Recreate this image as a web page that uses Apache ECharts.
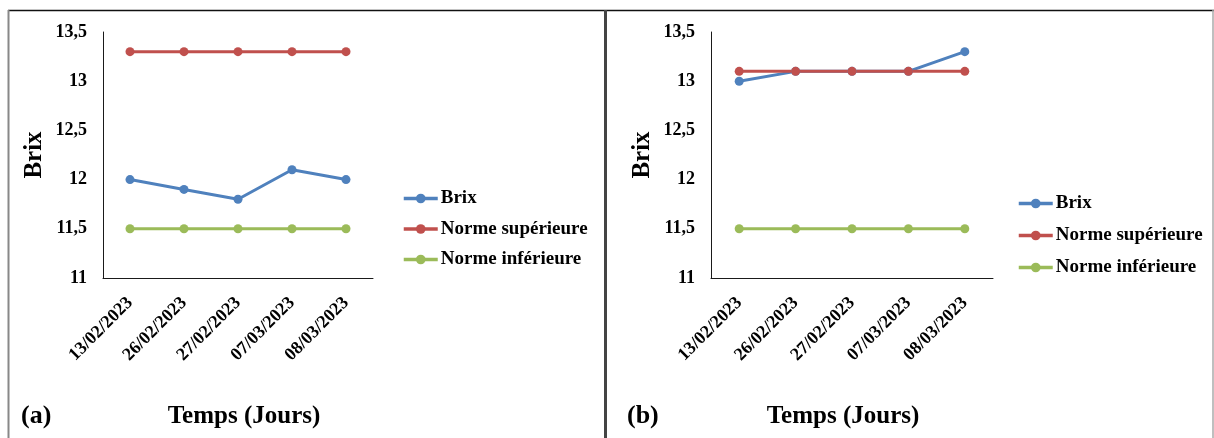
<!DOCTYPE html>
<html>
<head>
<meta charset="utf-8">
<script src="https://cdn.jsdelivr.net/npm/echarts@6/dist/echarts.min.js"></script>
<style>
  html, body { margin: 0; padding: 0; background: #fff; }
  #chart { width: 1214px; height: 438px; }
</style>
</head>
<body>
<div id="chart"></div>
<script>
// Sampling dates (shared by both panels)
const dates = ['13/02/2023', '26/02/2023', '27/02/2023', '07/03/2023', '08/03/2023'];

// Panel (a)
const brixA = [12.0, 11.9, 11.8, 12.1, 12.0];
const normeSupA = [13.3, 13.3, 13.3, 13.3, 13.3];
const normeInfA = [11.5, 11.5, 11.5, 11.5, 11.5];

// Panel (b)
const brixB = [13.0, 13.1, 13.1, 13.1, 13.3];
const normeSupB = [13.1, 13.1, 13.1, 13.1, 13.1];
const normeInfB = [11.5, 11.5, 11.5, 11.5, 11.5];

const seriesNames = ['Brix', 'Norme supérieure', 'Norme inférieure'];
const colors = ['#4F81BD', '#C0504D', '#9BBB59'];

const FONT = '"Liberation Serif", "Times New Roman", serif';

function makeXAxis(gridIndex, namePadding) {
  return {
    type: 'category',
    gridIndex: gridIndex,
    data: dates,
    boundaryGap: true,
    name: 'Temps (Jours)',
    nameLocation: 'middle',
    nameGap: 126,
    nameTextStyle: { fontFamily: FONT, fontWeight: 'bold', fontSize: 25, color: '#000', padding: namePadding },
    axisLine: { show: true, lineStyle: { color: '#1a1a1a', width: 1 } },
    axisTick: { show: false },
    splitLine: { show: false },
    axisLabel: {
      interval: 0, rotate: 45, margin: 22,
      fontFamily: FONT, fontWeight: 'bold', fontSize: 18, color: '#000'
    }
  };
}

function makeYAxis(gridIndex) {
  return {
    type: 'value',
    gridIndex: gridIndex,
    min: 11, max: 13.5, interval: 0.5,
    name: 'Brix',
    nameLocation: 'middle',
    nameRotate: 90,
    nameGap: 56,
    nameTextStyle: { fontFamily: FONT, fontWeight: 'bold', fontSize: 25, color: '#000' },
    axisLine: { show: true, lineStyle: { color: '#1a1a1a', width: 1 } },
    axisTick: { show: false },
    splitLine: { show: false },
    axisLabel: {
      margin: 16,
      fontFamily: FONT, fontWeight: 'bold', fontSize: 18, color: '#000',
      formatter: v => String(v).replace('.', ',')
    }
  };
}

function makeSeries(idx, values, name, color) {
  return {
    type: 'line',
    name: name,
    xAxisIndex: idx, yAxisIndex: idx,
    data: values,
    symbol: 'circle',
    symbolSize: 9,
    lineStyle: { width: 3, color: color },
    itemStyle: { color: color },
    animation: false
  };
}

function makeLegend(left, top, gap) {
  return {
    data: seriesNames,
    orient: 'vertical',
    left: left, top: top,
    padding: 0,
    itemWidth: 34, itemHeight: 12,
    itemGap: gap,
    selectedMode: false,
    lineStyle: { width: 3.5 },
    itemStyle: { borderWidth: 0 },
    textStyle: { fontFamily: FONT, fontWeight: 'bold', fontSize: 19, color: '#000', padding: [0, 0, 0, -2] }
  };
}

const chart = echarts.init(document.getElementById('chart'), null, { renderer: 'canvas' });

chart.setOption({
  backgroundColor: '#fff',
  color: colors,
  grid: [
    { left: 103, top: 32, width: 270, height: 246, outerBoundsMode: 'none', containLabel: false },
    { left: 711, top: 32, width: 282, height: 246, outerBoundsMode: 'none', containLabel: false }
  ],
  xAxis: [makeXAxis(0, [0, 0, 0, 12]), makeXAxis(1, [0, 18, 0, 0])],
  yAxis: [makeYAxis(0), makeYAxis(1)],
  legend: [
    makeLegend(402, 189, 11.5),
    makeLegend(1017, 194, 13)
  ],
  series: [
    makeSeries(0, brixA, seriesNames[0], colors[0]),
    makeSeries(0, normeSupA, seriesNames[1], colors[1]),
    makeSeries(0, normeInfA, seriesNames[2], colors[2]),
    makeSeries(1, brixB, seriesNames[0], colors[0]),
    makeSeries(1, normeSupB, seriesNames[1], colors[1]),
    makeSeries(1, normeInfB, seriesNames[2], colors[2])
  ],
  graphic: [
    // outer frame and panel divider
    { type: 'line', shape: { x1: 8, y1: 10.5, x2: 1214, y2: 10.5 }, style: { stroke: '#111', lineWidth: 1.5 } },
    { type: 'line', shape: { x1: 8.5, y1: 10, x2: 8.5, y2: 438 }, style: { stroke: '#888', lineWidth: 2 } },
    { type: 'line', shape: { x1: 605.5, y1: 10, x2: 605.5, y2: 438 }, style: { stroke: '#444', lineWidth: 3 } },
    { type: 'line', shape: { x1: 1213, y1: 10, x2: 1213, y2: 438 }, style: { stroke: '#aaa', lineWidth: 1.5 } },
    // panel letters
    { type: 'text', left: 21, top: 403, style: { text: '(a)', font: 'bold 26px ' + FONT, fill: '#000' } },
    { type: 'text', left: 627, top: 403, style: { text: '(b)', font: 'bold 26px ' + FONT, fill: '#000' } }
  ]
});
</script>
</body>
</html>
